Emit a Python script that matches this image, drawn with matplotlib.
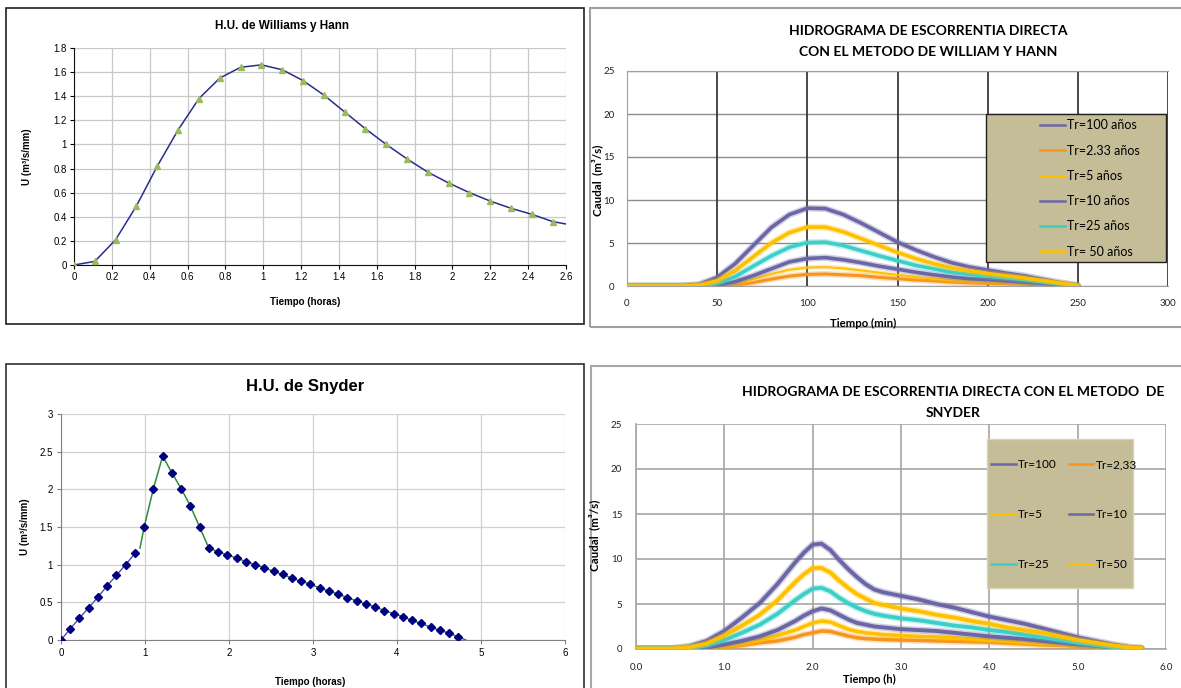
import matplotlib
matplotlib.use("Agg")
import matplotlib.pyplot as plt
import matplotlib.patheffects as pe
from matplotlib.patches import Rectangle
from matplotlib.lines import Line2D

# ---------------- data ----------------
# Panel 1: H.U. de Williams y Hann
wh_t = [0, 0.11, 0.22, 0.33, 0.44, 0.55, 0.66, 0.77, 0.88, 0.99, 1.10, 1.21, 1.32,
        1.43, 1.54, 1.65, 1.76, 1.87, 1.98, 2.09, 2.20, 2.31, 2.42, 2.53, 2.60]
wh_u = [0, 0.03, 0.21, 0.49, 0.82, 1.12, 1.38, 1.55, 1.64, 1.66, 1.62, 1.53, 1.41,
        1.27, 1.13, 1.00, 0.88, 0.77, 0.68, 0.60, 0.53, 0.47, 0.42, 0.36, 0.34]
wh_marked = 24  # number of plotted markers (last point is line end only)

# Panel 3: H.U. de Snyder
sn_t = [0, 0.11, 0.22, 0.33, 0.44, 0.55, 0.66, 0.77, 0.88, 0.99, 1.10, 1.21, 1.32,
        1.43, 1.54, 1.65, 1.76, 1.87, 1.98, 2.09, 2.20, 2.31, 2.42, 2.53, 2.64,
        2.75, 2.86, 2.97, 3.08, 3.19, 3.30, 3.41, 3.52, 3.63, 3.74, 3.85, 3.96,
        4.07, 4.18, 4.29, 4.40, 4.51, 4.62, 4.73]
sn_u = [0, 0.15, 0.29, 0.43, 0.57, 0.72, 0.86, 1.00, 1.15, 1.50, 2.01, 2.44, 2.22,
        2.01, 1.78, 1.50, 1.22, 1.17, 1.13, 1.09, 1.04, 1.00, 0.96, 0.91, 0.87,
        0.82, 0.78, 0.74, 0.69, 0.65, 0.61, 0.56, 0.52, 0.48, 0.44, 0.39, 0.35,
        0.31, 0.26, 0.22, 0.17, 0.13, 0.09, 0.04]
sn_rise_end = 9          # blue segment covers first 9 points
sn_green_start = (0.94, 1.22)
sn_green_end = (4.82, 0.0)

# Panel 2: Hidrograma Williams y Hann (min)
wh_q_t = [0, 30, 40, 50, 60, 70, 80, 90, 100, 110, 120, 130, 140, 150, 160, 170,
          180, 190, 200, 210, 220, 230, 240, 250]
wh_q100 = [0, 0, 0.2, 1.0, 2.6, 4.7, 6.8, 8.3, 9.05, 9.0, 8.3, 7.3, 6.2, 5.1, 4.2,
           3.4, 2.7, 2.2, 1.85, 1.5, 1.2, 0.8, 0.4, 0.05]
wh_q233 = [0, 0, 0, 0, 0.1, 0.4, 0.8, 1.15, 1.35, 1.4, 1.3, 1.2, 1.0, 0.85, 0.7,
           0.6, 0.45, 0.35, 0.3, 0.25, 0.2, 0.15, 0.08, 0.02]
wh_q5 = [0, 0, 0, 0.02, 0.3, 0.8, 1.4, 1.9, 2.15, 2.2, 2.05, 1.8, 1.55, 1.3, 1.05,
         0.85, 0.7, 0.55, 0.5, 0.4, 0.3, 0.2, 0.1, 0.02]
wh_q10 = [0, 0, 0, 0.1, 0.5, 1.2, 2.0, 2.8, 3.2, 3.3, 3.05, 2.7, 2.3, 1.95, 1.6,
          1.3, 1.05, 0.85, 0.75, 0.6, 0.45, 0.3, 0.15, 0.02]
wh_q25 = [0, 0, 0.02, 0.3, 1.1, 2.3, 3.5, 4.5, 5.05, 5.1, 4.7, 4.1, 3.5, 2.95, 2.4,
          2.0, 1.6, 1.35, 1.15, 0.95, 0.75, 0.5, 0.25, 0.05]
wh_q50 = [0, 0, 0.1, 0.6, 1.8, 3.4, 5.0, 6.2, 6.85, 6.85, 6.3, 5.5, 4.7, 3.9, 3.2,
          2.6, 2.1, 1.75, 1.45, 1.2, 0.95, 0.65, 0.35, 0.05]

# Panel 4: Hidrograma Snyder (h)
sn_q_t = [0.0, 0.4, 0.6, 0.8, 1.0, 1.2, 1.4, 1.6, 1.8, 1.9, 2.0, 2.1, 2.2, 2.3, 2.4,
          2.5, 2.6, 2.7, 2.8, 3.0, 3.2, 3.4, 3.6, 3.8, 4.0, 4.2, 4.4, 4.6, 4.8, 5.0,
          5.2, 5.4, 5.6, 5.72]
sn_q100 = [0.05, 0.05, 0.3, 0.9, 2.0, 3.5, 5.1, 7.2, 9.6, 10.7, 11.6, 11.7, 11.0,
           9.9, 8.9, 8.0, 7.2, 6.6, 6.3, 5.9, 5.5, 5.0, 4.6, 4.1, 3.6, 3.2, 2.8,
           2.3, 1.8, 1.3, 0.9, 0.5, 0.2, 0.1]
sn_q233 = [0.05, 0.05, 0.05, 0.05, 0.15, 0.4, 0.7, 0.9, 1.3, 1.6, 1.8, 2.0, 1.95,
           1.7, 1.45, 1.25, 1.15, 1.1, 1.05, 1.0, 0.95, 0.9, 0.85, 0.8, 0.75, 0.65,
           0.55, 0.45, 0.4, 0.3, 0.2, 0.1, 0.05, 0.05]
sn_q5 = [0.05, 0.05, 0.05, 0.1, 0.3, 0.6, 1.0, 1.5, 2.1, 2.5, 2.9, 3.1, 3.0, 2.6,
         2.2, 1.95, 1.8, 1.7, 1.6, 1.5, 1.4, 1.35, 1.25, 1.1, 1.0, 0.9, 0.75, 0.6,
         0.5, 0.35, 0.25, 0.1, 0.05, 0.05]
sn_q10 = [0.05, 0.05, 0.05, 0.15, 0.5, 0.9, 1.4, 2.1, 3.1, 3.7, 4.2, 4.5, 4.3, 3.8,
          3.3, 2.9, 2.7, 2.5, 2.4, 2.2, 2.1, 2.0, 1.8, 1.6, 1.4, 1.25, 1.1, 0.9,
          0.7, 0.5, 0.35, 0.15, 0.05, 0.05]
sn_q25 = [0.05, 0.05, 0.1, 0.4, 1.0, 1.8, 2.7, 3.9, 5.4, 6.1, 6.7, 6.8, 6.4, 5.7,
          5.1, 4.6, 4.2, 3.9, 3.7, 3.4, 3.2, 2.9, 2.6, 2.4, 2.1, 1.9, 1.6, 1.3,
          1.0, 0.7, 0.45, 0.2, 0.05, 0.05]
sn_q50 = [0.05, 0.05, 0.2, 0.6, 1.5, 2.6, 3.8, 5.4, 7.4, 8.3, 9.0, 9.0, 8.5, 7.6,
          6.8, 6.1, 5.6, 5.1, 4.9, 4.5, 4.2, 3.8, 3.5, 3.1, 2.8, 2.4, 2.1, 1.8,
          1.4, 1.0, 0.7, 0.4, 0.15, 0.1]

wh_labels = ["Tr=100 años", "Tr=2.33 años", "Tr=5 años", "Tr=10 años",
             "Tr=25 años", "Tr= 50 años"]
sn_labels = ["Tr=100", "Tr=2,33", "Tr=5", "Tr=10", "Tr=25", "Tr=50"]

# ---------------- style ----------------
ARIAL = "Liberation Sans"
CAL = "Lato"
PURPLE = "#6B66A6"
ORANGE = "#F7941E"
YELLOW = "#FFC000"
CYAN = "#3CCFC8"
TAN = "#C4BD97"

W, H = 1181, 688
fig = plt.figure(figsize=(W / 100, H / 100), dpi=100)
fig.patch.set_facecolor("white")


def rect(x0, y0, x1, y1):
    return [x0 / W, 1 - y1 / H, (x1 - x0) / W, (y1 - y0) / H]


def frame(x0, y0, x1, y1, color, lw):
    fig.add_artist(Rectangle((x0 / W, 1 - y1 / H), (x1 - x0) / W, (y1 - y0) / H,
                             transform=fig.transFigure, facecolor="none",
                             edgecolor=color, linewidth=lw, zorder=-1))


frame(6, 8, 584, 324, "#202020", 1.2)
frame(590, 8, 1190, 327, "#A0A0A0", 1.5)
frame(6, 364, 584, 700, "#303030", 1.2)
frame(591, 366, 1190, 700, "#A8A8A8", 1.5)

# ---------- Panel 1 ----------
ax1 = fig.add_axes(rect(74, 48, 566, 265))
ax1.plot(wh_t, wh_u, color="#2B2B8F", lw=1.1, zorder=3)
ax1.plot(wh_t[:wh_marked], wh_u[:wh_marked], ls="none", marker="^", ms=5,
         color="#9BBB59", mec="#9BBB59", zorder=4)
ax1.set_xlim(0, 2.6)
ax1.set_ylim(0, 1.8)
ax1.set_xticks([i * 0.2 for i in range(14)])
ax1.set_yticks([i * 0.2 for i in range(10)])
ax1.set_xticklabels(["0", "0.2", "0.4", "0.6", "0.8", "1", "1.2", "1.4", "1.6",
                     "1.8", "2", "2.2", "2.4", "2.6"])
ax1.set_yticklabels(["0", "0.2", "0.4", "0.6", "0.8", "1", "1.2", "1.4", "1.6", "1.8"])
ax1.grid(True, color="#C8C8C8", lw=0.9)
ax1.set_axisbelow(True)
for s in ["top", "right"]:
    ax1.spines[s].set_visible(False)
for s in ["left", "bottom"]:
    ax1.spines[s].set_color("#101010")
ax1.tick_params(length=3, width=0.8, labelsize=7, pad=2)
for lab in ax1.get_xticklabels() + ax1.get_yticklabels():
    lab.set_family(ARIAL)
ax1.set_xlabel("Tiempo (horas)", fontsize=7, fontweight="bold", family=ARIAL)
ax1.set_ylabel("U (m³/s/mm)", fontsize=7, fontweight="bold", family=ARIAL)
ax1.xaxis.set_label_coords(0.47, -0.148)
ax1.yaxis.set_label_coords(-0.085, 0.5)
fig.text(282 / W, 1 - 26 / H, "H.U. de Williams y Hann", ha="center", va="center",
         fontsize=8.5, fontweight="bold", family=ARIAL)

# ---------- Panel 3 ----------
ax3 = fig.add_axes(rect(61, 414, 565, 640))
ax3.plot(sn_t[:sn_rise_end], sn_u[:sn_rise_end], color="#5050B0", lw=1.0, zorder=3)
g_t = [sn_green_start[0]] + sn_t[sn_rise_end:] + [sn_green_end[0]]
g_u = [sn_green_start[1]] + sn_u[sn_rise_end:] + [sn_green_end[1]]
ax3.plot(g_t, g_u, color="#2E8B3E", lw=1.1, zorder=3)
ax3.plot(sn_t, sn_u, ls="none", marker="D", ms=4, color="#000080", mec="#000080",
         zorder=4)
ax3.set_xlim(0, 6)
ax3.set_ylim(0, 3)
ax3.set_xticks(range(7))
ax3.set_yticks([0, 0.5, 1, 1.5, 2, 2.5, 3])
ax3.set_yticklabels(["0", "0.5", "1", "1.5", "2", "2.5", "3"])
ax3.grid(True, color="#D0D0D0", lw=0.9)
ax3.set_axisbelow(True)
for s in ["top", "right"]:
    ax3.spines[s].set_visible(False)
for s in ["left", "bottom"]:
    ax3.spines[s].set_color("#808080")
ax3.tick_params(length=3, width=0.8, color="#808080", labelsize=7, pad=3)
for lab in ax3.get_xticklabels() + ax3.get_yticklabels():
    lab.set_family(ARIAL)
ax3.set_xlabel("Tiempo (horas)", fontsize=7, fontweight="bold", family=ARIAL)
ax3.set_ylabel("U (m³/s/mm)", fontsize=7, fontweight="bold", family=ARIAL)
ax3.xaxis.set_label_coords(0.494, -0.164)
ax3.yaxis.set_label_coords(-0.062, 0.5)
fig.text(305 / W, 1 - 386 / H, "H.U. de Snyder", ha="center", va="center",
         fontsize=12, fontweight="bold", family=ARIAL)


def glow(lw, color):
    return [pe.Stroke(linewidth=lw + 2.2, foreground=color, alpha=0.3), pe.Normal()]


# ---------- Panel 2 ----------
ax2 = fig.add_axes(rect(627, 71, 1168, 286))
series2 = [(wh_q100, PURPLE, 2.6), (wh_q233, ORANGE, 2.2), (wh_q5, YELLOW, 1.4),
           (wh_q10, PURPLE, 2.6), (wh_q25, CYAN, 2.6), (wh_q50, YELLOW, 2.6)]
handles2 = []
for (vals, col, lw), lab in zip(series2, wh_labels):
    ax2.plot(wh_q_t, vals, color=col, lw=lw, solid_capstyle="round",
             path_effects=glow(lw, col), zorder=3)
    handles2.append(Line2D([], [], color=col, lw=1.8))
ax2.set_xlim(0, 300)
ax2.set_ylim(0, 25)
ax2.set_xticks(range(0, 301, 50))
ax2.set_yticks(range(0, 26, 5))
ax2.yaxis.grid(True, color="#8C8C8C", lw=1.0)
for xv in range(50, 301, 50):
    ax2.axvline(xv, color="#3A3A3A", lw=1.3, zorder=1)
ax2.set_axisbelow(True)
for s in ["top", "left", "bottom"]:
    ax2.spines[s].set_color("#A0A0A0")
ax2.spines["right"].set_visible(False)
ax2.tick_params(length=0, labelsize=7, pad=9, colors="#222222")
for lab in ax2.get_xticklabels() + ax2.get_yticklabels():
    lab.set_family(CAL)
ax2.set_xlabel("Tiempo (min)", fontsize=8.2, fontweight="bold", family=CAL)
ax2.set_ylabel("Caudal  (m³/s)", fontsize=8.3, fontweight="bold", family=CAL)
ax2.xaxis.set_label_coords(0.436, -0.15)
ax2.yaxis.set_label_coords(-0.044, 0.49)
fig.text(928 / W, 1 - 31 / H, "HIDROGRAMA DE ESCORRENTIA DIRECTA", ha="center",
         va="center", fontsize=10, fontweight="bold", family=CAL)
fig.text(928 / W, 1 - 52 / H, "CON EL METODO DE WILLIAM Y HANN", ha="center",
         va="center", fontsize=10, fontweight="bold", family=CAL)
fig.add_artist(Rectangle((986 / W, 1 - 262 / H), 180 / W, 148 / H,
                         transform=fig.transFigure, facecolor=TAN,
                         edgecolor="#202020", lw=1.0, zorder=3))
fig.legend(handles2, wh_labels, loc="center",
           bbox_to_anchor=(1090 / W, 1 - 188.5 / H), bbox_transform=fig.transFigure,
           frameon=False, prop={"family": CAL, "size": 9}, handlelength=2.0,
           handletextpad=0.2, labelspacing=1.06, borderpad=0)

# ---------- Panel 4 ----------
ax4 = fig.add_axes(rect(636, 424, 1166, 649))
series4 = [(sn_q100, PURPLE, 2.8), (sn_q233, ORANGE, 2.5), (sn_q5, YELLOW, 2.5),
           (sn_q10, PURPLE, 2.8), (sn_q25, CYAN, 2.8), (sn_q50, YELLOW, 2.8)]
handles4 = []
for (vals, col, lw), lab in zip(series4, sn_labels):
    ax4.plot(sn_q_t, vals, color=col, lw=lw, solid_capstyle="round",
             path_effects=glow(lw, col), zorder=3)
    handles4.append(Line2D([], [], color=col, lw=1.8))
ax4.set_xlim(0, 6)
ax4.set_ylim(0, 25)
ax4.set_xticks(range(7))
ax4.set_xticklabels(["0.0", "1.0", "2.0", "3.0", "4.0", "5.0", "6.0"])
ax4.set_yticks(range(0, 26, 5))
ax4.grid(True, color="#A6A6A6", lw=1.2)
ax4.set_axisbelow(True)
for s in ["top", "right"]:
    ax4.spines[s].set_visible(False)
for s in ["left", "bottom"]:
    ax4.spines[s].set_color("#A6A6A6")
    ax4.spines[s].set_linewidth(1.2)
ax4.tick_params(length=0, labelsize=7, pad=10, colors="#222222")
for lab in ax4.get_xticklabels() + ax4.get_yticklabels():
    lab.set_family(CAL)
ax4.set_xlabel("Tiempo (h)", fontsize=8, fontweight="bold", family=CAL, va="center")
ax4.set_ylabel("Caudal  (m³/s)", fontsize=8.3, fontweight="bold", family=CAL)
ax4.xaxis.set_label_coords(0.44, -0.135)
ax4.yaxis.set_label_coords(-0.068, 0.507)
fig.text(953 / W, 1 - 392 / H, "HIDROGRAMA DE ESCORRENTIA DIRECTA CON EL METODO  DE",
         ha="center", va="center", fontsize=10, fontweight="bold", family=CAL)
fig.text(953 / W, 1 - 413 / H, "SNYDER", ha="center", va="center", fontsize=10,
         fontweight="bold", family=CAL)
fig.add_artist(Rectangle((987 / W, 1 - 588 / H), 146 / W, 149 / H,
                         transform=fig.transFigure, facecolor=TAN,
                         edgecolor="#D8D3B8", lw=1.0, zorder=3))
order = [0, 2, 4, 1, 3, 5]
fig.legend([handles4[i] for i in order], [sn_labels[i] for i in order], ncol=2,
           loc="center", bbox_to_anchor=(1064 / W, 1 - 514.5 / H),
           bbox_transform=fig.transFigure, frameon=False,
           prop={"family": CAL, "size": 8.5}, handlelength=2.1, handletextpad=0.2,
           labelspacing=3.3, columnspacing=1.0, borderpad=0)

fig.savefig("out.png", dpi=100)
